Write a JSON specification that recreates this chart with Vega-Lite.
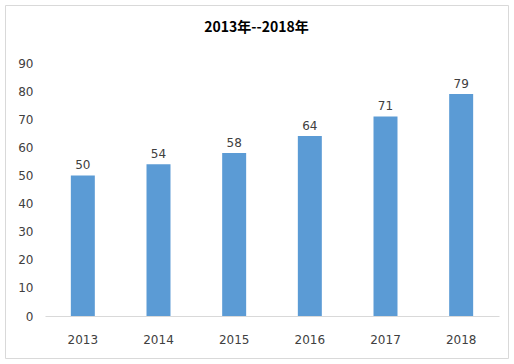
{
  "$schema": "https://vega.github.io/schema/vega-lite/v6.json",
  "autosize": "none",
  "padding": {"left": 5, "top": 5, "right": 6, "bottom": 6},
  "width": 503,
  "height": 353,
  "background": "white",
  "config": {
    "view": {"stroke": "#d9d9d9", "strokeWidth": 1},
    "font": "DejaVu Sans"
  },
  "title": {
    "text": "2013年--2018年",
    "font": "Noto Sans CJK SC",
    "fontSize": 14,
    "fontWeight": "bold",
    "color": "#000000",
    "anchor": "middle",
    "frame": "group",
    "offset": -28,
    "dy": 2
  },
  "data": {
    "values": [
      {"year": "2013", "value": 50},
      {"year": "2014", "value": 54},
      {"year": "2015", "value": 58},
      {"year": "2016", "value": 64},
      {"year": "2017", "value": 71},
      {"year": "2018", "value": 79}
    ]
  },
  "encoding": {
    "x": {
      "field": "year",
      "type": "nominal",
      "scale": {"range": [40, 494], "paddingInner": 0.683, "paddingOuter": 0.3415},
      "axis": {
        "title": null,
        "labelAngle": 0,
        "offset": -42,
        "domainColor": "#d9d9d9",
        "ticks": false,
        "labelPadding": 18,
        "labelFontSize": 12,
        "labelColor": "#404040",
        "grid": false
      }
    },
    "y": {
      "field": "value",
      "type": "quantitative",
      "scale": {"domain": [0, 90], "range": [311, 58], "nice": false},
      "axis": {
        "title": null,
        "values": [0, 10, 20, 30, 40, 50, 60, 70, 80, 90],
        "offset": -40,
        "domain": false,
        "ticks": false,
        "grid": false,
        "labelPadding": 12,
        "labelFontSize": 12,
        "labelColor": "#404040"
      }
    }
  },
  "layer": [
    {"mark": {"type": "bar", "color": "#5B9BD5"}},
    {
      "mark": {"type": "text", "dy": -10, "fontSize": 12, "color": "#404040"},
      "encoding": {"text": {"field": "value", "type": "quantitative"}}
    }
  ]
}
